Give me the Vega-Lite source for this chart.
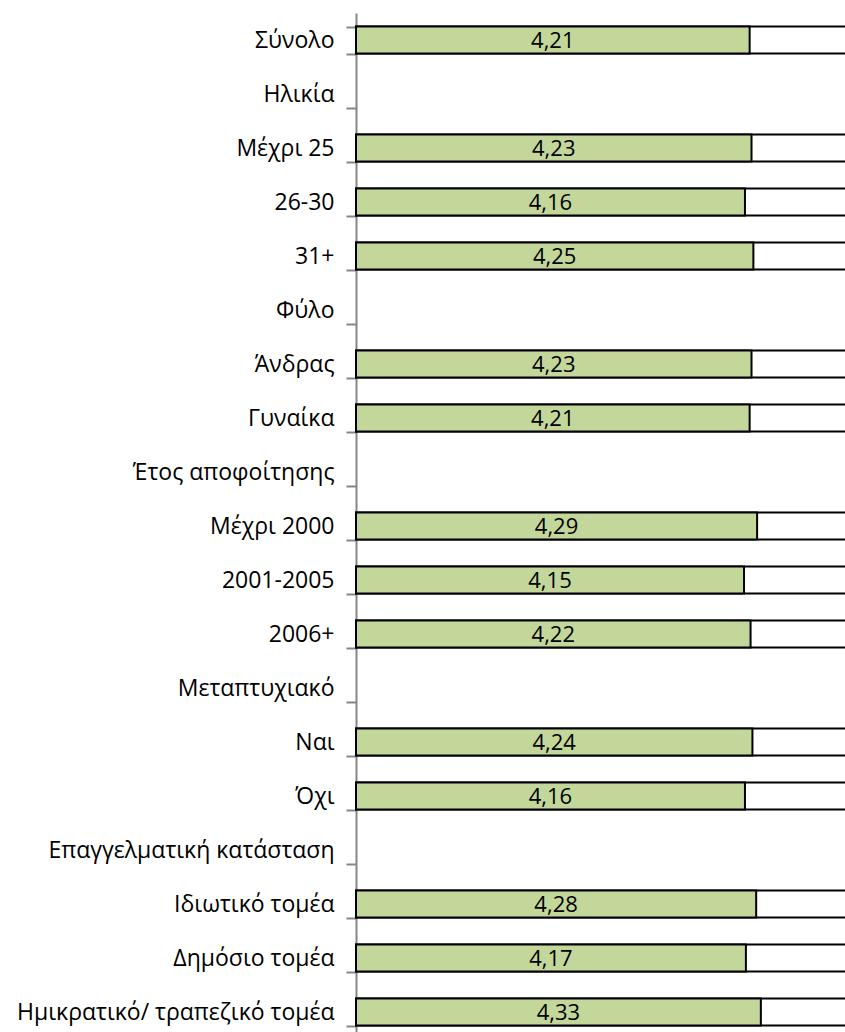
{
  "$schema": "https://vega.github.io/schema/vega-lite/v6.json",
  "autosize": {"type": "none"},
  "padding": {"left": 356, "top": 13, "right": 0, "bottom": 0},
  "width": 561,
  "height": 1026,
  "config": {
    "view": {"stroke": null},
    "locale": {"number": {"decimal": ",", "thousands": ".", "grouping": [3], "currency": ["", " €"]}},
    "font": "Open Sans"
  },
  "data": {"values": [
    {"cat": "Σύνολο", "value": 4.21},
    {"cat": "Ηλικία", "value": null},
    {"cat": "Μέχρι 25", "value": 4.23},
    {"cat": "26-30", "value": 4.16},
    {"cat": "31+", "value": 4.25},
    {"cat": "Φύλο", "value": null},
    {"cat": "Άνδρας", "value": 4.23},
    {"cat": "Γυναίκα", "value": 4.21},
    {"cat": "Έτος αποφοίτησης", "value": null},
    {"cat": "Μέχρι 2000", "value": 4.29},
    {"cat": "2001-2005", "value": 4.15},
    {"cat": "2006+", "value": 4.22},
    {"cat": "Μεταπτυχιακό", "value": null},
    {"cat": "Ναι", "value": 4.24},
    {"cat": "Όχι", "value": 4.16},
    {"cat": "Επαγγελματική κατάσταση", "value": null},
    {"cat": "Ιδιωτικό τομέα", "value": 4.28},
    {"cat": "Δημόσιο τομέα", "value": 4.17},
    {"cat": "Ημικρατικό/ τραπεζικό τομέα", "value": 4.33}
  ]},
  "transform": [{"filter": "datum.value != null"}],
  "encoding": {
    "y": {
      "field": "cat", "type": "nominal", "title": null,
      "scale": {
        "domain": ["Σύνολο", "Ηλικία", "Μέχρι 25", "26-30", "31+", "Φύλο", "Άνδρας", "Γυναίκα", "Έτος αποφοίτησης", "Μέχρι 2000", "2001-2005", "2006+", "Μεταπτυχιακό", "Ναι", "Όχι", "Επαγγελματική κατάσταση", "Ιδιωτικό τομέα", "Δημόσιο τομέα", "Ημικρατικό/ τραπεζικό τομέα"],
        "paddingInner": 0.5, "paddingOuter": 0.25
      },
      "axis": {
        "tickBand": "extent",
        "domainColor": "#868686", "domainWidth": 2,
        "tickColor": "#868686", "tickWidth": 2, "tickSize": 10,
        "labelFontSize": 23, "labelColor": "#000000", "labelPadding": 12,
        "labelFont": "Open Sans", "labelLimit": 400
      }
    }
  },
  "resolve": {"scale": {"x": "independent"}},
  "layer": [
    {
      "layer": [
        {
          "mark": {"type": "bar", "fill": "#ffffff", "stroke": "#000000", "strokeWidth": 2},
          "encoding": {
            "x": {"datum": 0, "type": "quantitative", "scale": {"domain": [0, 6], "nice": false, "zero": true}, "axis": null},
            "x2": {"datum": 6}
          }
        },
        {
          "mark": {"type": "bar", "fill": "#C4D79B", "stroke": "#000000", "strokeWidth": 2},
          "encoding": {
            "x": {"field": "value", "type": "quantitative", "scale": {"domain": [0, 6], "nice": false, "zero": true}, "axis": null}
          }
        }
      ]
    },
    {
      "mark": {"type": "text", "fontSize": 22, "color": "#000000", "dy": 1},
      "encoding": {
        "x": {"field": "value", "type": "quantitative", "scale": {"domain": [0, 12], "nice": false, "zero": true}, "axis": null},
        "text": {"field": "value", "type": "quantitative", "format": ".2f"}
      }
    }
  ]
}
